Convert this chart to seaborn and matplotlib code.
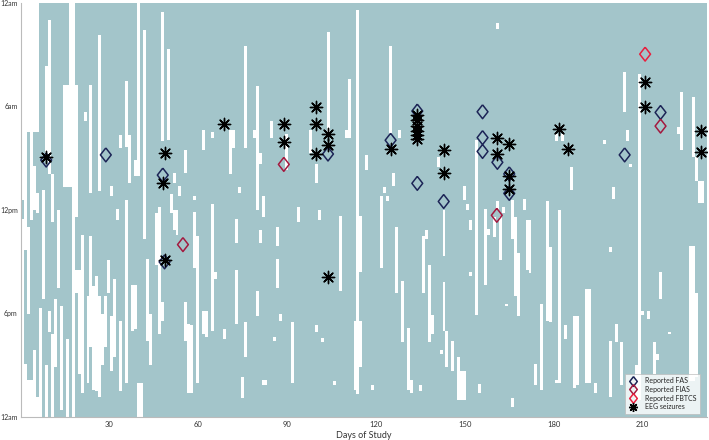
import numpy as np
import pandas as pd
import matplotlib
matplotlib.use("Agg")
import matplotlib.pyplot as plt
import seaborn as sns
from matplotlib.colors import ListedColormap
from matplotlib.lines import Line2D

n_days = 231
bins_per_hour = 12  # 5 minute bins

# recording gaps: (first day, last day, from hour, to hour)
gaps = [
    (1, 6, 0, 7.5), (1, 1, 7.5, 11.4), (1, 1, 12.5, 24), (2, 2, 7.5, 14.3), (2, 2, 20.9, 24),
    (3, 4, 21.8, 24), (3, 3, 13.0, 18.0), (4, 4, 7.5, 12.6), (5, 5, 9.4, 12.0), (5, 5, 20.1, 24),
    (6, 6, 11, 12.2), (6, 6, 22.8, 24), (7, 7, 17.7, 24), (8, 8, 10.8, 17.2), (9, 9, 3.7, 9.0),
    (9, 9, 21.0, 24), (10, 10, 1.0, 9.9), (10, 10, 17.8, 19.1), (11, 11, 9.9, 12.7),
    (11, 11, 19.2, 24), (12, 12, 17.2, 21.1), (13, 13, 12.0, 16.5), (14, 14, 17.6, 23.6),
    (15, 19, 4.75, 10.7), (16, 16, 19.5, 24), (17, 17, 0, 4.75), (18, 18, 0, 24),
    (19, 19, 10.7, 12.4), (19, 19, 15.5, 16.8), (20, 20, 15.5, 21.5), (21, 21, 13.4, 22.6),
    (22, 22, 6.3, 6.8), (23, 23, 17.0, 22.0), (24, 24, 4.75, 11.0), (24, 24, 13.5, 19.9),
    (25, 25, 16.4, 22.4), (26, 26, 15.8, 22.5), (27, 27, 1.8, 10.9), (27, 27, 17, 22.8),
    (28, 28, 18.0, 21.0), (29, 29, 17, 19.9), (30, 30, 14.9, 16.8), (31, 31, 10.6, 11.2),
    (31, 31, 18.2, 21.3), (32, 32, 16.0, 20.5), (33, 33, 11.9, 12.6), (34, 34, 7.7, 8.4),
    (34, 34, 18.4, 22.5), (36, 36, 4.5, 8.3), (36, 36, 11.4, 22), (37, 37, 7.7, 10.4),
    (38, 38, 16.3, 19), (39, 39, 9.1, 10), (39, 39, 16.3, 18.9), (40, 40, 0, 10), (40, 41, 22, 24),
    (42, 42, 1.6, 13.7), (43, 43, 14.8, 19.6), (44, 44, 18.0, 21.0), (46, 46, 12.2, 15.2),
    (47, 47, 11.8, 19.2), (48, 48, 0.5, 8.0), (48, 48, 17.3, 18.4), (50, 50, 2.7, 7.9),
    (51, 51, 11.1, 12.2), (52, 52, 9.8, 10.4), (52, 52, 12, 13.2), (53, 53, 12, 13.4),
    (54, 54, 10.6, 11.2), (56, 56, 8.5, 9.8), (56, 56, 17.3, 19.6), (57, 57, 18.6, 22.6),
    (58, 58, 18.7, 22.6), (59, 59, 11.2, 11.4), (59, 59, 12.1, 15.3), (60, 60, 13.5, 22),
    (62, 62, 7.3, 8.5), (62, 62, 17.8, 19.2), (63, 63, 17.8, 19.3), (65, 65, 7.5, 7.8),
    (65, 65, 11.7, 19), (66, 66, 15.6, 16), (69, 69, 18.9, 19.5), (71, 71, 7.3, 9.9),
    (72, 72, 7.3, 8.4), (73, 73, 12.5, 13.9), (73, 73, 15.5, 18.6), (74, 74, 10.7, 11.0),
    (75, 75, 21.7, 22.9), (76, 76, 2.5, 8.4), (76, 76, 18.5, 20.5), (79, 79, 7.3, 7.8),
    (80, 80, 4.8, 12), (80, 80, 16.7, 18.2), (81, 81, 8.7, 9.3), (81, 81, 13.2, 13.9),
    (82, 82, 11.2, 12.4), (82, 83, 21.8, 22.2), (85, 85, 6.8, 7.8), (86, 86, 19.3, 19.6),
    (87, 87, 13, 14.1), (87, 87, 14.8, 16.5), (88, 88, 18, 18.4), (90, 90, 7.6, 9.7),
    (92, 92, 18.5, 22), (94, 94, 11.8, 12.7), (98, 98, 7.3, 8.7), (100, 100, 9.3, 10.4),
    (100, 100, 18.7, 19.1), (101, 101, 12, 12.6), (102, 102, 19.4, 19.7), (104, 104, 1.7, 7.6),
    (106, 106, 21.9, 22.2), (108, 108, 12.3, 16.7), (110, 110, 7.3, 7.8), (111, 111, 4.4, 7.8),
    (113, 113, 18.4, 22.4), (114, 114, 0.4, 22.7), (115, 115, 12.3, 15.6), (115, 115, 18.4, 21.1),
    (117, 117, 8.8, 9.7), (119, 119, 22.2, 22.4), (122, 122, 11.2, 15.3), (123, 123, 10.7, 11),
    (124, 124, 11.2, 11.5), (125, 125, 2.5, 7.6), (126, 126, 9.8, 10.6), (127, 127, 13, 16.8),
    (128, 128, 7.3, 7.8), (129, 129, 16.1, 19.7), (131, 131, 18.8, 22.4), (132, 132, 21.8, 22.6),
    (135, 135, 22.2, 22.5), (136, 136, 13.5, 16.8), (137, 137, 13.2, 13.7), (138, 138, 15.2, 19.7),
    (139, 139, 18.1, 19.2), (141, 141, 8.9, 9.5), (142, 142, 20.1, 20.3), (143, 143, 12, 14.7),
    (143, 143, 16.2, 19), (144, 144, 19, 21.1), (146, 146, 19.6, 21.3), (148, 148, 20.5, 23),
    (149, 150, 21.3, 23), (150, 150, 10.6, 11.4), (151, 151, 11.7, 12), (152, 152, 12.6, 13.2),
    (152, 152, 15.6, 15.8), (154, 154, 7.9, 18.1), (155, 155, 22.1, 22.6), (157, 157, 11.9, 16.3),
    (158, 158, 13.1, 13.4), (160, 160, 12.4, 13.6), (161, 161, 1.2, 1.5), (161, 161, 11.5, 12),
    (162, 162, 12.4, 14.9), (163, 163, 11.8, 12.2), (164, 164, 17.4, 17.6), (166, 166, 11.4, 13.7),
    (166, 166, 22.9, 23.4), (167, 167, 12.4, 17), (168, 168, 14.5, 18.2), (170, 170, 11.3, 12),
    (171, 171, 12.6, 15.5), (172, 172, 12.6, 15.7), (174, 174, 20.9, 22.2), (176, 176, 17.4, 22.4),
    (178, 178, 11.5, 18.4), (179, 179, 14.2, 18.5), (181, 182, 21.8, 22), (181, 181, 7.6, 8),
    (182, 182, 12, 21.9), (183, 183, 7.6, 8), (184, 184, 18.7, 19.5), (186, 186, 9.5, 10.8),
    (187, 187, 18.2, 22.3), (188, 188, 18.2, 22.2), (191, 192, 16.6, 22), (194, 194, 22, 22.6),
    (197, 197, 7.9, 8.2), (199, 199, 14.2, 14.4), (199, 199, 19.6, 22.8), (200, 200, 10.7, 11.3),
    (201, 201, 18.6, 19.7), (203, 203, 19.7, 22.2), (204, 204, 4, 6.3), (205, 205, 7.3, 8),
    (206, 206, 9.3, 9.5), (209, 209, 4.1, 23), (208, 208, 21, 23), (210, 210, 17.8, 18.1),
    (212, 212, 17.8, 18.3), (214, 214, 19.7, 21.5), (215, 215, 20.3, 20.7), (216, 216, 15.6, 17.2),
    (219, 219, 19.1, 19.2), (222, 222, 7.2, 7.6), (223, 223, 5.2, 8.5), (226, 227, 14.1, 21.9),
    (227, 227, 5.4, 8.9), (228, 228, 8.9, 10.3), (228, 228, 16.8, 21.7), (229, 230, 10.3, 11.6),
]

# reported / recorded events (day of study, hour of day)
fas_day = [8.9, 29, 48.2, 48.8, 103.9, 125, 134, 134, 142.9, 156, 156, 156, 161, 165, 165, 203.9, 216]
fas_hour = [9.1, 8.8, 9.97, 15.0, 8.75, 7.95, 6.26, 10.45, 11.5, 6.3, 7.8, 8.6, 9.23, 9.9, 11.03, 8.8, 6.34]
fias_day = [55, 89, 160.8, 216]
fias_hour = [14.0, 9.35, 12.3, 7.13]
fbtcs_day = [210.8]
fbtcs_hour = [2.96]
eeg_day = [8.9, 48.9, 48.2, 69, 48.9, 88.9, 88.9, 100, 100, 100, 104, 104, 104, 125,
           134, 134, 134, 134, 134, 134, 143, 143, 160.8, 160.8, 165, 165, 165,
           181.8, 184.8, 210.8, 210.8, 229.8, 229.8]
eeg_hour = [8.9, 8.7, 10.45, 7.0, 14.9, 7.03, 8.04, 6.0, 7.0, 8.75, 7.6, 8.23, 15.87, 8.46,
            6.5, 6.78, 7.13, 7.42, 7.65, 7.9, 8.52, 9.84, 7.84, 8.75, 8.19, 10.0, 10.8,
            7.32, 8.48, 4.56, 6.05, 7.4, 8.62]

x_ticks = [30, 60, 90, 120, 150, 180, 210]
y_ticks = [0, 6, 12, 18, 24]
y_labels = ["12am", "6am", "12pm", "6pm", "12am"]

teal = "#a3c5ca"
c_fas = "#1c2456"
c_fias = "#a3193f"
c_fbtcs = "#e8203f"

sns.set_style("white")
plt.rcParams["font.family"] = ["Lato", "DejaVu Sans"]

grid = np.ones((24 * bins_per_hour, n_days))
for d0, d1, h0, h1 in gaps:
    grid[int(round(h0 * bins_per_hour)):int(round(h1 * bins_per_hour)), d0 - 1:d1] = 0
df = pd.DataFrame(grid, columns=range(1, n_days + 1))

fig = plt.figure(figsize=(7.09, 4.40), dpi=100)
ax = fig.add_axes([0.03, 0.052, 0.9665, 0.941])
sns.heatmap(df, cmap=ListedColormap(["white", teal]), vmin=0, vmax=1, cbar=False,
            ax=ax, rasterized=True)


def hx(days):
    return np.asarray(days) - 0.5


def hy(hours):
    return np.asarray(hours) * bins_per_hour


diamond = [(0, 1), (0.78, 0), (0, -1), (-0.78, 0), (0, 1)]

for days, hours, col in [(fas_day, fas_hour, c_fas), (fias_day, fias_hour, c_fias),
                         (fbtcs_day, fbtcs_hour, c_fbtcs)]:
    sns.scatterplot(x=hx(days), y=hy(hours), marker=diamond, color=col, s=100,
                    linewidth=1.1, ax=ax, zorder=5)
    pts = ax.collections[-1]
    pts.set_facecolor("none")
    pts.set_edgecolor(col)

sns.scatterplot(x=hx(eeg_day), y=hy(eeg_hour), marker=(8, 2, 0), color="black", s=78,
                linewidth=1.0, ax=ax, zorder=6)

ax.set_xlim(0, n_days)
ax.set_ylim(24 * bins_per_hour, 0)
ax.set_xticks(hx(x_ticks))
ax.set_xticklabels([str(t) for t in x_ticks], rotation=0)
ax.set_yticks(hy(y_ticks))
ax.set_yticklabels(y_labels, rotation=0)
ax.tick_params(axis="x", direction="in", length=3, width=0.6, color="#666666",
               labelsize=5.5, labelcolor="#333333", pad=3)
ax.tick_params(axis="y", direction="out", length=1.5, width=0.6, color="#999999",
               labelsize=5, labelcolor="#333333", pad=1)
ax.set_xlabel("Days of Study", fontsize=6.5, color="#333333", labelpad=2)
ax.set_ylabel("")
for side in ["left", "bottom"]:
    ax.spines[side].set_visible(True)
    ax.spines[side].set_color("#bbbbbb")
    ax.spines[side].set_linewidth(0.8)

handles = [
    Line2D([], [], ls="none", marker=diamond, mfc="none", mec=c_fas, ms=7, mew=1.1, label="Reported FAS"),
    Line2D([], [], ls="none", marker=diamond, mfc="none", mec=c_fias, ms=7, mew=1.1, label="Reported FIAS"),
    Line2D([], [], ls="none", marker=diamond, mfc="none", mec=c_fbtcs, ms=7, mew=1.1, label="Reported FBTCS"),
    Line2D([], [], ls="none", marker=(8, 2, 0), color="black", ms=6.5, mew=1.0, label="EEG seizures"),
]
leg = ax.legend(handles=handles, loc="lower right", bbox_to_anchor=(0.991, 0.008),
                borderaxespad=0, fontsize=5, frameon=True, fancybox=False,
                handlelength=1.2, handletextpad=1.2, labelspacing=0.25, borderpad=0.5)
leg.get_frame().set_edgecolor("#bbbbbb")
leg.get_frame().set_linewidth(0.6)
leg.set_zorder(10)

fig.savefig("out.png", dpi=100)
